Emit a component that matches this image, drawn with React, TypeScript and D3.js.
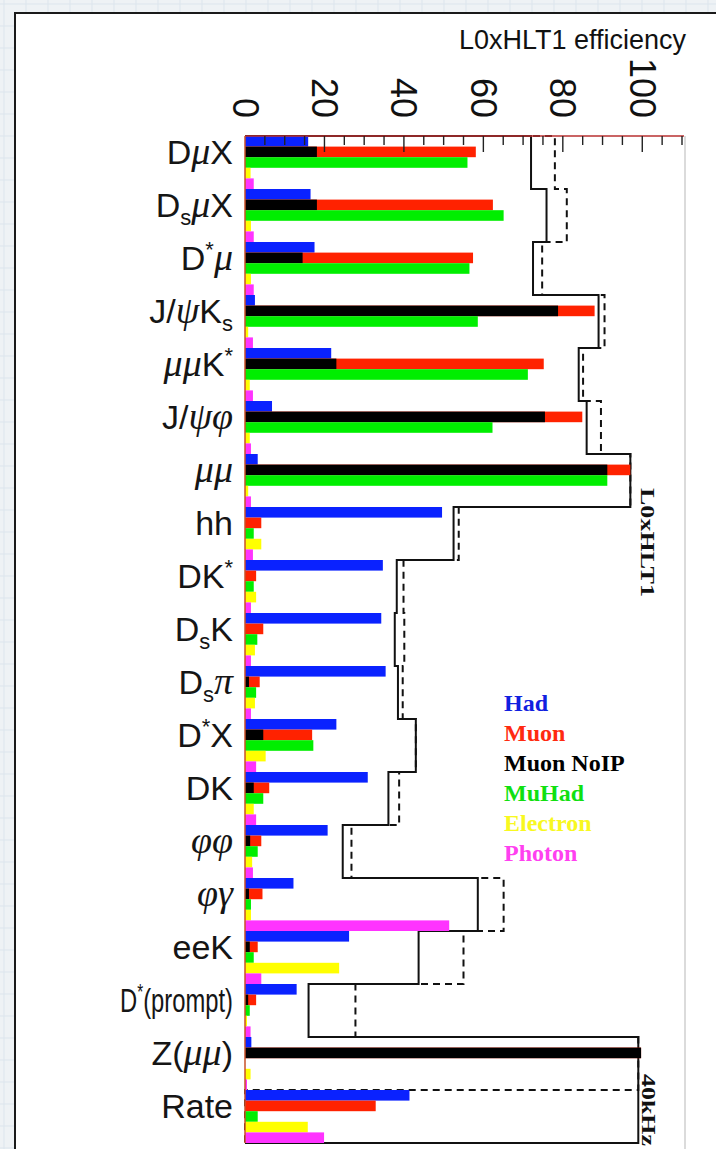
import React, { useEffect, useRef } from "react";
import * as d3 from "d3";

// channels, top to bottom
const categories = ["DμX", "DsμX", "D*μ", "J/ψKs", "μμK*", "J/ψφ", "μμ", "hh", "DK*", "DsK", "Dsπ", "D*X", "DK", "φφ", "φγ", "eeK", "D*(prompt)", "Z(μμ)", "Rate"];

// efficiencies in % per trigger line
const had = [15.9, 16.5, 17.5, 2.5, 21.7, 6.8, 3.2, 49.6, 34.7, 34.3, 35.4, 23, 30.9, 20.8, 12.2, 26.2, 13, 1.6, 41.4];
const muon = [58.1, 62.4, 57.4, 88, 75.2, 84.9, 97, 4.1, 2.8, 4.6, 3.7, 16.9, 6.1, 4.1, 4.4, 3.2, 2.8, 99.7, 32.9];
const muonNoIP = [18.1, 18.1, 14.5, 78.8, 23, 75.5, 91.2, 0, 0, 0, 1, 4.6, 2.2, 1.3, 1, 1.2, 0.8, 99.7, 0];
const muHad = [56, 65.1, 56.5, 58.6, 71.2, 62.3, 91.2, 2.2, 2.2, 3.1, 2.8, 17.2, 4.6, 3.2, 1.5, 2.2, 1.2, 0, 3.2];
const electron = [1.4, 1.5, 1.5, 0.8, 1.2, 1.2, 0.8, 4.1, 2.8, 2.5, 2.5, 5.2, 2.2, 1.8, 1.5, 23.7, 0.5, 1.4, 15.8];
const photon = [2.2, 2.2, 2.2, 2.0, 2.0, 1.5, 1.5, 2.0, 1.5, 1.5, 1.5, 2.8, 2.8, 2.0, 51.4, 4.1, 1.4, 0.5, 19.9];

// L0xHLT1 totals (solid) and the dashed reference
const l0hlt1 = [72, 75.9, 72.5, 89, 84, 86, 97, 52.5, 38.2, 37.7, 38.5, 43, 36.1, 24.6, 58.6, 43.7, 16, 99, 99];
const l0hlt1Dashed = [78, 81, 74.8, 90.5, 85.1, 89.6, 97, 53.8, 39.9, 40.1, 39.7, 43, 38.8, 26.8, 65.1, 55, 27.8, 99, 0];

const tickLabels = [0, 20, 40, 60, 80, 100];
const legendNames = ["Had", "Muon", "Muon NoIP", "MuHad", "Electron", "Photon"];
const legendColors = ["#1020e0", "#ff2a10", "#000000", "#10e010", "#f8f820", "#ff40f0"];

const W = 716;
const H = 1149;

function tokenize(label: string) {
  const out: { text: string; kind: string }[] = [];
  for (let i = 0; i < label.length; i++) {
    const ch = label[i];
    let kind = "normal";
    if ("μψφπγ".includes(ch)) kind = "greek";
    else if (ch === "*") kind = "sup";
    else if (ch === "s" && i > 0 && "DK".includes(label[i - 1])) kind = "sub";
    const last = out[out.length - 1];
    if (last && last.kind === kind) last.text += ch;
    else out.push({ text: ch, kind });
  }
  return out;
}

export default function App() {
  const ref = useRef<SVGSVGElement>(null);

  useEffect(() => {
    const svg = d3.select(ref.current);
    svg.selectAll("*").remove();

    // page background with faint grid, then the white panel
    svg.append("rect").attr("width", W).attr("height", H).attr("fill", "#eef2f5");
    const grid = svg.append("g").attr("stroke", "#dce5ed").attr("stroke-width", 1);
    d3.range(4, W, 22).forEach((gx) => grid.append("line").attr("x1", gx).attr("x2", gx).attr("y1", 0).attr("y2", H));
    d3.range(4, H, 22).forEach((gy) => grid.append("line").attr("y1", gy).attr("y2", gy).attr("x1", 0).attr("x2", W));
    svg.append("rect").attr("x", 15).attr("y", 13).attr("width", W - 15).attr("height", H - 13).attr("fill", "#fff");
    svg.append("path").attr("d", `M15,${H}V13H${W}`).attr("fill", "none").attr("stroke", "#1a1a1a").attr("stroke-width", 2);

    const x = d3.scaleLinear().domain([0, 110]).range([245, 682]);
    const y = d3.scaleBand<string>().domain(categories).range([136, 1143]);
    const slot = d3.scaleBand<string>().domain(["had", "muon", "muhad", "electron", "photon"]).range([0, y.bandwidth()]);

    // step outlines
    const step = d3
      .line<{ v: number; y: number }>()
      .x((d) => x(d.v))
      .y((d) => d.y)
      .curve(d3.curveStepBefore);
    const outline = (vals: number[]) => [
      { v: 0, y: y.range()[0] },
      ...categories.map((c, i) => ({ v: vals[i], y: y(c)! })),
      { v: 0, y: y.range()[1] },
    ];
    svg.append("path").attr("d", step(outline(l0hlt1Dashed))!).attr("fill", "none").attr("stroke", "#111").attr("stroke-width", 2).attr("stroke-dasharray", "7,5");
    svg.append("path").attr("d", step(outline(l0hlt1))!).attr("fill", "none").attr("stroke", "#111").attr("stroke-width", 2);

    // bars
    const series = [
      { slot: "had", values: had, color: "#0a22ff" },
      { slot: "muon", values: muon, color: "#ff2200" },
      { slot: "muon", values: muonNoIP, color: "#000000" },
      { slot: "muhad", values: muHad, color: "#00ee00" },
      { slot: "electron", values: electron, color: "#ffff00" },
      { slot: "photon", values: photon, color: "#ff33ff" },
    ];
    series.forEach((s) => {
      svg
        .append("g")
        .selectAll("rect")
        .data(categories)
        .join("rect")
        .attr("x", x(0))
        .attr("y", (c) => y(c)! + slot(s.slot)!)
        .attr("width", (c, i) => x(s.values[i]) - x(0))
        .attr("height", slot.bandwidth())
        .attr("fill", s.color);
    });

    // axis lines and ticks
    svg.append("line").attr("x1", 245).attr("x2", 684).attr("y1", 136).attr("y2", 136).attr("stroke", "#b83030").attr("stroke-width", 1.5);
    svg.append("line").attr("x1", 245).attr("x2", 245).attr("y1", 136).attr("y2", 1143).attr("stroke", "#c85028").attr("stroke-width", 1.5);
    svg.append("line").attr("x1", 685).attr("x2", 685).attr("y1", 136).attr("y2", H).attr("stroke", "#cfcfcf").attr("stroke-width", 1.5);
    svg
      .append("g")
      .selectAll("line")
      .data(d3.range(5, 111, 5))
      .join("line")
      .attr("x1", (d) => x(d))
      .attr("x2", (d) => x(d))
      .attr("y1", 136)
      .attr("y2", (d) => (d % 20 === 0 ? 152 : 145))
      .attr("stroke", "#222")
      .attr("stroke-width", 1.4);

    svg
      .append("g")
      .attr("font-family", "Liberation Sans, Arial, sans-serif")
      .attr("font-size", 36)
      .attr("fill", "#111")
      .selectAll("text")
      .data(tickLabels)
      .join("text")
      .attr("x", (d) => x(d))
      .attr("y", 118)
      .attr("transform", (d) => `rotate(90,${x(d)},118)`)
      .attr("text-anchor", "end")
      .attr("dominant-baseline", "central")
      .text((d) => d);

    svg
      .append("text")
      .attr("x", 686)
      .attr("y", 49)
      .attr("text-anchor", "end")
      .attr("font-family", "Liberation Sans, Arial, sans-serif")
      .attr("font-size", 27)
      .attr("fill", "#111")
      .text("L0xHLT1 efficiency");

    // category labels
    const lab = svg.append("g").attr("font-family", "Liberation Sans, Arial, sans-serif").attr("font-size", 34).attr("fill", "#151515");
    categories.forEach((c) => {
      const cy = y(c)! + slot("muon")! + slot.bandwidth() / 2 + 12;
      // the long prompt label is squeezed horizontally in the original
      const sx = c === "D*(prompt)" ? 0.7 : 1;
      const t = lab
        .append("text")
        .attr("transform", `translate(233,${cy}) scale(${sx},1)`)
        .attr("text-anchor", "end");
      let shift = 0;
      tokenize(c).forEach((tok) => {
        const s = t.append("tspan").text(tok.text);
        let target = 0;
        if (tok.kind === "greek") s.attr("font-family", "Liberation Serif, serif").attr("font-style", "italic").attr("font-size", 38);
        if (tok.kind === "sub") {
          s.attr("font-size", 22);
          target = 8;
        }
        if (tok.kind === "sup") {
          s.attr("font-size", 22);
          target = -13;
        }
        if (target !== shift) s.attr("dy", target - shift);
        shift = target;
      });
    });

    // legend
    svg
      .append("g")
      .attr("font-family", "Liberation Serif, Times New Roman, serif")
      .attr("font-weight", "bold")
      .attr("font-size", 24)
      .selectAll("text")
      .data(legendNames)
      .join("text")
      .attr("x", 504)
      .attr("y", (d, i) => 711 + i * 30)
      .attr("fill", (d, i) => legendColors[i])
      .text((d) => d);

    // rotated side notes
    const side = svg.append("g").attr("font-family", "Liberation Serif, Times New Roman, serif").attr("font-weight", "bold").attr("font-size", 19).attr("fill", "#111");
    side.append("text").attr("x", 641).attr("y", 488).attr("transform", "rotate(90,641,488)").attr("textLength", 109).attr("lengthAdjust", "spacingAndGlyphs").text("L0xHLT1");
    side.append("text").attr("x", 642).attr("y", 1074).attr("transform", "rotate(90,642,1074)").attr("textLength", 72).attr("lengthAdjust", "spacingAndGlyphs").text("40kHz");
  }, []);

  return <svg ref={ref} width={W} height={H} style={{ position: "absolute", left: 0, top: 0 }} />;
}
